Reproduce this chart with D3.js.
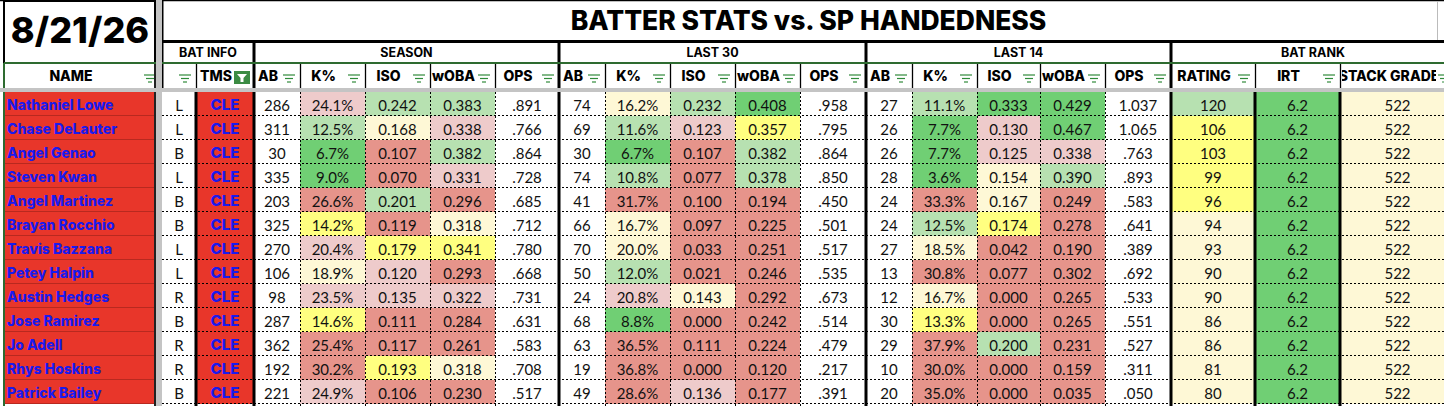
<!DOCTYPE html>
<html lang="en">
<head>
<meta charset="UTF-8">
<title>Batter Stats vs. SP Handedness</title>
<script src="https://d3js.org/d3.v7.min.js"></script>
<style>
  body { margin: 0; padding: 0; background: #fff; overflow: hidden; }
  svg { display: block; }
  .hdr { font-family: Inter, "Noto Sans", sans-serif; font-weight: 800; fill: #000; }
  .val { font-family: Lato, "Open Sans", sans-serif; font-size: 15px; fill: #111; }
  .name { font-family: Inter, "Noto Sans", sans-serif; font-weight: 800; font-size: 14px; fill: #1a1aee; }
</style>
</head>
<body>
<div id="chart"></div>
<script>
// ---- data ----
const dateLabel = "8/21/26";
const title = "BATTER STATS vs. SP HANDEDNESS";
const players = ["Nathaniel Lowe", "Chase DeLauter", "Angel Genao", "Steven Kwan", "Angel Martinez", "Brayan Rocchio", "Travis Bazzana", "Petey Halpin", "Austin Hedges", "Jose Ramirez", "Jo Adell", "Rhys Hoskins", "Patrick Bailey"];
const hands = ["L", "L", "B", "L", "B", "B", "L", "L", "R", "B", "R", "R", "B"];
const teams = ["CLE", "CLE", "CLE", "CLE", "CLE", "CLE", "CLE", "CLE", "CLE", "CLE", "CLE", "CLE", "CLE"];

const seasonAB = [286, 311, 30, 335, 203, 325, 270, 106, 98, 287, 362, 192, 221];
const seasonK = [24.1, 12.5, 6.7, 9.0, 26.6, 14.2, 20.4, 18.9, 23.5, 14.6, 25.4, 30.2, 24.9];
const seasonISO = [0.242, 0.168, 0.107, 0.070, 0.201, 0.119, 0.179, 0.120, 0.135, 0.111, 0.117, 0.193, 0.106];
const seasonWOBA = [0.383, 0.338, 0.382, 0.331, 0.296, 0.318, 0.341, 0.293, 0.322, 0.284, 0.261, 0.318, 0.230];
const seasonOPS = [0.891, 0.766, 0.864, 0.728, 0.685, 0.712, 0.780, 0.668, 0.731, 0.631, 0.583, 0.708, 0.517];

const l30AB = [74, 69, 30, 74, 41, 66, 70, 50, 24, 68, 63, 19, 49];
const l30K = [16.2, 11.6, 6.7, 10.8, 31.7, 16.7, 20.0, 12.0, 20.8, 8.8, 36.5, 36.8, 28.6];
const l30ISO = [0.232, 0.123, 0.107, 0.077, 0.100, 0.097, 0.033, 0.021, 0.143, 0.000, 0.111, 0.000, 0.136];
const l30WOBA = [0.408, 0.357, 0.382, 0.378, 0.194, 0.225, 0.251, 0.246, 0.292, 0.242, 0.224, 0.120, 0.177];
const l30OPS = [0.958, 0.795, 0.864, 0.850, 0.450, 0.501, 0.517, 0.535, 0.673, 0.514, 0.479, 0.217, 0.391];

const l14AB = [27, 26, 26, 28, 24, 24, 27, 13, 12, 30, 29, 10, 20];
const l14K = [11.1, 7.7, 7.7, 3.6, 33.3, 12.5, 18.5, 30.8, 16.7, 13.3, 37.9, 30.0, 35.0];
const l14ISO = [0.333, 0.130, 0.125, 0.154, 0.167, 0.174, 0.042, 0.077, 0.000, 0.000, 0.200, 0.000, 0.000];
const l14WOBA = [0.429, 0.467, 0.338, 0.390, 0.249, 0.278, 0.190, 0.302, 0.265, 0.265, 0.231, 0.159, 0.035];
const l14OPS = [1.037, 1.065, 0.763, 0.893, 0.583, 0.641, 0.389, 0.692, 0.533, 0.551, 0.527, 0.311, 0.050];

const rating = [120, 106, 103, 99, 96, 94, 93, 90, 90, 86, 86, 81, 80];
const irt = [6.2, 6.2, 6.2, 6.2, 6.2, 6.2, 6.2, 6.2, 6.2, 6.2, 6.2, 6.2, 6.2];
const stackGrade = [522, 522, 522, 522, 522, 522, 522, 522, 522, 522, 522, 522, 522];

// conditional format tiers, 0 = worst ... 5 = best
const seasonKTier = [1, 4, 5, 5, 0, 3, 1, 2, 1, 3, 0, 0, 1];
const seasonISOTier = [4, 2, 0, 0, 4, 0, 3, 1, 1, 0, 0, 3, 0];
const seasonWOBATier = [4, 1, 4, 1, 0, 2, 3, 0, 1, 0, 0, 2, 0];
const l30KTier = [2, 4, 5, 4, 0, 2, 2, 4, 1, 5, 0, 0, 0];
const l30ISOTier = [4, 1, 0, 0, 0, 0, 0, 0, 2, 0, 0, 0, 1];
const l30WOBATier = [5, 3, 4, 4, 0, 0, 0, 0, 0, 0, 0, 0, 0];
const l14KTier = [4, 5, 5, 5, 0, 4, 2, 0, 2, 3, 0, 0, 0];
const l14ISOTier = [5, 1, 1, 2, 2, 3, 0, 0, 0, 0, 4, 0, 0];
const l14WOBATier = [5, 5, 1, 4, 0, 0, 0, 0, 0, 0, 0, 0, 0];
const ratingTier = [4, 3, 3, 3, 3, 2, 2, 2, 2, 2, 2, 2, 2];
const irtTier = [5, 5, 5, 5, 5, 5, 5, 5, 5, 5, 5, 5, 5];
const stackTier = [2, 2, 2, 2, 2, 2, 2, 2, 2, 2, 2, 2, 2];

// ---- formats / scales ----
const fInt = d3.format("d");
const fPct = v => d3.format(".1f")(v) + "%";
const f3 = d3.format(".3f");
const fOps = v => v >= 1 ? f3(v) : f3(v).replace(/^0/, "");
const f1 = d3.format(".1f");

const tierColor = d3.scaleOrdinal()
  .domain([0, 1, 2, 3, 4, 5])
  .range(["#e6948b", "#eecbcb", "#fef8d6", "#ffff80", "#b7e1b1", "#70cf74"]);

const W = 1444, H = 406;
const n = players.length;

// column boundaries in px (layout)
const edges = [162, 196, 254, 300, 365, 430, 495, 559, 605, 670, 735, 800, 866, 912, 977, 1040, 1105, 1171, 1255, 1340, 1455];
const thick = new Set([196, 254, 559, 866, 1171, 1255, 1340]);
const groupEdges = new Set([254, 559, 866, 1171]);

const columns = [
  { label: "", values: hands, fmt: String },
  { label: "TMS", values: teams, fmt: String, team: true },
  { label: "AB", values: seasonAB, fmt: fInt },
  { label: "K%", values: seasonK, fmt: fPct, tiers: seasonKTier },
  { label: "ISO", values: seasonISO, fmt: f3, tiers: seasonISOTier },
  { label: "wOBA", values: seasonWOBA, fmt: f3, tiers: seasonWOBATier },
  { label: "OPS", values: seasonOPS, fmt: fOps },
  { label: "AB", values: l30AB, fmt: fInt },
  { label: "K%", values: l30K, fmt: fPct, tiers: l30KTier },
  { label: "ISO", values: l30ISO, fmt: f3, tiers: l30ISOTier },
  { label: "wOBA", values: l30WOBA, fmt: f3, tiers: l30WOBATier },
  { label: "OPS", values: l30OPS, fmt: fOps },
  { label: "AB", values: l14AB, fmt: fInt },
  { label: "K%", values: l14K, fmt: fPct, tiers: l14KTier },
  { label: "ISO", values: l14ISO, fmt: f3, tiers: l14ISOTier },
  { label: "wOBA", values: l14WOBA, fmt: f3, tiers: l14WOBATier },
  { label: "OPS", values: l14OPS, fmt: fOps },
  { label: "RATING", values: rating, fmt: fInt, tiers: ratingTier },
  { label: "IRT", values: irt, fmt: f1, tiers: irtTier },
  { label: "STACK GRADE", values: stackGrade, fmt: fInt, tiers: stackTier }
];
columns.forEach((c, i) => { c.x0 = edges[i]; c.x1 = edges[i + 1]; });

const groups = [
  { label: "BAT INFO", x0: 162, x1: 254 },
  { label: "SEASON", x0: 254, x1: 559 },
  { label: "LAST 30", x0: 559, x1: 866 },
  { label: "LAST 14", x0: 866, x1: 1171 },
  { label: "BAT RANK", x0: 1171, x1: 1455 }
];

const y = d3.scaleBand().domain(d3.range(n)).range([92, 92 + 24 * n]);
const rowH = y.bandwidth();

const svg = d3.select("#chart").append("svg")
  .attr("width", W)
  .attr("height", H);

svg.append("defs").append("clipPath").attr("id", "clipStack")
  .append("rect").attr("x", 1342).attr("y", 60).attr("width", 94).attr("height", 30);

// ---- data cells ----
const cells = svg.append("g");
columns.forEach(c => {
  cells.selectAll(null)
    .data(c.values)
    .enter().append("rect")
    .attr("x", c.x0)
    .attr("y", (d, i) => y(i))
    .attr("width", c.x1 - c.x0)
    .attr("height", rowH)
    .attr("fill", (d, i) => c.team ? "#e8362a" : (c.tiers ? tierColor(c.tiers[i]) : "#fff"));

  cells.selectAll(null)
    .data(c.values)
    .enter().append("text")
    .attr("class", c.team ? "name" : "val")
    .attr("x", (c.x0 + c.x1) / 2)
    .attr("y", (d, i) => y(i) + (c.team ? 18 : 18.5))
    .attr("text-anchor", "middle")
    .style("font-size", c.team ? "15px" : null)
    .text(d => c.fmt(d));
});

// name column
svg.selectAll(".nameCell")
  .data(players)
  .enter().append("rect")
  .attr("x", 4).attr("y", (d, i) => y(i))
  .attr("width", 151).attr("height", rowH)
  .attr("fill", "#e8362a");
svg.selectAll(".nameSep")
  .data(players)
  .enter().append("line")
  .attr("x1", 4).attr("x2", 155)
  .attr("y1", (d, i) => y(i) + rowH - 0.5).attr("y2", (d, i) => y(i) + rowH - 0.5)
  .attr("stroke", "#b8291f").attr("stroke-width", 1);
svg.selectAll(".nameTxt")
  .data(players)
  .enter().append("text")
  .attr("class", "name")
  .attr("x", 7)
  .attr("y", (d, i) => y(i) + 18)
  .text(d => d);

// dotted grid in data area
const grid = svg.append("g").attr("stroke", "#000").attr("stroke-width", 1).attr("stroke-dasharray", "2,2");
grid.selectAll("line.h")
  .data(d3.range(n))
  .enter().append("line")
  .attr("x1", 162).attr("x2", W)
  .attr("y1", i => y(i) + rowH - 0.5).attr("y2", i => y(i) + rowH - 0.5);
grid.selectAll("line.v")
  .data(edges.filter(e => !thick.has(e) && e > 162 && e < W))
  .enter().append("line")
  .attr("x1", d => d + 0.5).attr("x2", d => d + 0.5)
  .attr("y1", 92).attr("y2", H);

// ---- header ----
const hdr = svg.append("g");
// date box
hdr.append("rect").attr("x", 4).attr("y", 1).attr("width", 151).attr("height", 62)
  .attr("fill", "#fff").attr("stroke", "#000").attr("stroke-width", 2);
hdr.append("text").attr("class", "hdr")
  .attr("x", 80).attr("y", 43).attr("text-anchor", "middle")
  .style("font-size", "36px")
  .text(dateLabel);

// title
hdr.append("text").attr("class", "hdr")
  .attr("x", (162 + 1455) / 2).attr("y", 30).attr("text-anchor", "middle")
  .style("font-size", "26.5px")
  .text(title);

// group labels
hdr.selectAll(".grp")
  .data(groups)
  .enter().append("text")
  .attr("class", "hdr")
  .attr("x", d => (d.x0 + d.x1) / 2).attr("y", 57)
  .attr("text-anchor", "middle")
  .style("font-size", "12.5px")
  .style("font-weight", 700)
  .text(d => d.label);

// filter icon: three stacked green bars
function filterIcon(g, xr, ym) {
  [12, 8, 4].forEach((w, k) => {
    g.append("line")
      .attr("x1", xr - 6 - w / 2).attr("x2", xr - 6 + w / 2)
      .attr("y1", ym - 3.5 + k * 3.5).attr("y2", ym - 3.5 + k * 3.5)
      .attr("stroke", "#2f8a3a").attr("stroke-width", 1.2);
  });
}

// column header labels
const colHdr = svg.append("g");
columns.forEach(c => {
  if (c.team) {
    colHdr.append("text").attr("class", "hdr")
      .attr("x", 216).attr("y", 81).attr("text-anchor", "middle")
      .style("font-size", "14px").text(c.label);
    colHdr.append("rect").attr("x", 234).attr("y", 71).attr("width", 16).attr("height", 13)
      .attr("fill", "#3b8b43");
    colHdr.append("path")
      .attr("d", "M237,74 L247,74 L243.5,78 L243.5,82 L240.5,82 L240.5,78 Z")
      .attr("fill", "#fff");
    return;
  }
  const t = colHdr.append("text").attr("class", "hdr")
    .attr("x", (c.x0 + c.x1 - 18) / 2).attr("y", 81).attr("text-anchor", "middle")
    .style("font-size", "14px").text(c.label);
  if (c.label === "STACK GRADE") t.attr("clip-path", "url(#clipStack)").attr("x", 1389);
  filterIcon(colHdr, c.x1 - 5, 78.5);
});

// NAME header
colHdr.append("text").attr("class", "hdr")
  .attr("x", 71).attr("y", 81).attr("text-anchor", "middle")
  .style("font-size", "14px").text("NAME");
filterIcon(colHdr, 156, 78.5);

// ---- structural lines ----
const lines = svg.append("g");
lines.append("line").attr("x1", 0).attr("x2", W).attr("y1", 0.5).attr("y2", 0.5)
  .attr("stroke", "#000").attr("stroke-width", 1.5);
lines.append("line").attr("x1", 162).attr("x2", W).attr("y1", 41.5).attr("y2", 41.5)
  .attr("stroke", "#000").attr("stroke-width", 3);
lines.append("line").attr("x1", 1437.5).attr("x2", 1437.5).attr("y1", 1).attr("y2", 40)
  .attr("stroke", "#bbb").attr("stroke-width", 1);
lines.append("line").attr("x1", 162.5).attr("x2", 162.5).attr("y1", 0).attr("y2", 88)
  .attr("stroke", "#000").attr("stroke-width", 2);
// thin verticals in the column header row
lines.selectAll(".cv")
  .data(edges.filter(e => !groupEdges.has(e) && e > 162 && e < W))
  .enter().append("line")
  .attr("x1", d => d + 0.5).attr("x2", d => d + 0.5)
  .attr("y1", 63).attr("y2", 88)
  .attr("stroke", "#000").attr("stroke-width", 1.3);
// thick verticals
lines.selectAll(".tv")
  .data([...thick])
  .enter().append("line")
  .attr("x1", d => d).attr("x2", d => d)
  .attr("y1", d => groupEdges.has(d) ? 41 : 88)
  .attr("y2", H)
  .attr("stroke", "#000").attr("stroke-width", 3);
lines.append("line").attr("x1", 155).attr("x2", 155).attr("y1", 63).attr("y2", H)
  .attr("stroke", "#222").attr("stroke-width", 2);
// green selection lines
lines.append("line").attr("x1", 4).attr("x2", W).attr("y1", 63).attr("y2", 63)
  .attr("stroke", "#2e6b30").attr("stroke-width", 2.2);
lines.append("line").attr("x1", 4).attr("x2", 4).attr("y1", 63).attr("y2", H)
  .attr("stroke", "#2e6b30").attr("stroke-width", 2);
// frozen pane separators
lines.append("rect").attr("x", 0).attr("y", 88).attr("width", W).attr("height", 4).attr("fill", "#c4c4c4");
lines.append("rect").attr("x", 156).attr("y", 0).attr("width", 6).attr("height", H).attr("fill", "#c4c4c4");
</script>
</body>
</html>
